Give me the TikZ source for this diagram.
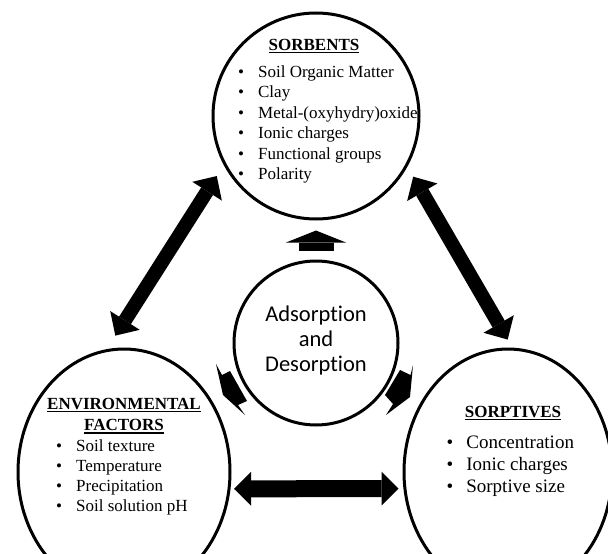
\documentclass[tikz,border=0pt]{standalone}
\usepackage{fontspec}
\setmainfont{Liberation Serif}
\newfontfamily\calib[Ligatures=NoCommon]{Carlito}
\usetikzlibrary{shapes.geometric,arrows.meta}
\newcommand{\hdul}[1]{\setbox0=\hbox{#1}\rlap{\rule[-3.2pt]{\wd0}{1.3pt}}\box0}
\begin{document}
\begin{tikzpicture}[x=1pt,y=-1pt,
  ring/.style={draw,line width=3pt,circle,inner sep=0pt},
  oval/.style={draw,line width=3pt,ellipse,inner sep=0pt},
  head/.style={anchor=base,inner sep=0pt,font=\fontsize{17}{21}\selectfont\bfseries},
  items/.style={anchor=base west,inner sep=0pt},
  dbl/.style={line width=14pt,{Triangle[width=35pt,length=18pt,line width=0pt]}-{Triangle[width=35pt,length=18pt,line width=0pt]}},
  hdbl/.style={line width=17pt,{Triangle[width=34pt,length=17pt,line width=0pt]}-{Triangle[width=34pt,length=17pt,line width=0pt]}},
  uparr/.style={line width=35pt,-{Triangle[width=60pt,length=12pt,line width=0pt]}},
]
\useasboundingbox (0,0) rectangle (608,554);
\fill[white] (0,0) rectangle (608,554);

% circles
\node[ring,minimum size=206pt] (top) at (316,116) {};
\node[ring,minimum size=164pt] (cen) at (316,343) {};
\node[oval,minimum width=212pt,minimum height=246pt] (env) at (124,472) {};
\node[oval,minimum width=208pt,minimum height=246pt] (sorp) at (508,472) {};

% top texts
\node[head] (topH) at (314,50) {\hdul{SORBENTS}};
\node[items] (topL) at (238,77.3) {\fontsize{17}{20.5}\selectfont
  \begin{tabular}[t]{@{}l@{\hspace{14pt}}l@{}}
  \textbullet & Soil Organic Matter\\
  \textbullet & Clay\\
  \textbullet & Metal-(oxyhydry)oxide\\
  \textbullet & Ionic charges\\
  \textbullet & Functional groups\\
  \textbullet & Polarity
  \end{tabular}};

% environmental texts
\node[head] (envH) at (124,409) {\begin{tabular}[t]{@{}c@{}}\hdul{ENVIRONMENTAL}\\[0.5pt]\hdul{FACTORS}\end{tabular}};
\node[items] (envL) at (56,451) {\fontsize{17}{20.3}\selectfont
  \begin{tabular}[t]{@{}l@{\hspace{14pt}}l@{}}
  \textbullet & Soil texture\\
  \textbullet & Temperature\\
  \textbullet & Precipitation\\
  \textbullet & Soil solution pH
  \end{tabular}};

% sorptives texts
\node[head] (sorpH) at (513,417) {\hdul{SORPTIVES}};
\node[items] (sorpL) at (446.5,448) {\fontsize{19}{22}\selectfont
  \begin{tabular}[t]{@{}l@{\hspace{13pt}}l@{}}
  \textbullet & Concentration\\
  \textbullet & Ionic charges\\
  \textbullet & Sorptive size
  \end{tabular}};

% center text
\node[anchor=base,inner sep=0pt] (cenT) at (316,321.7) {\calib\fontsize{22.5}{25}\selectfont
  \begin{tabular}[t]{@{}c@{}}Adsorption\\and\\Desorption\end{tabular}};

% big double arrows
\draw[dbl,shorten <=13pt,shorten >=16pt] (top.208) -- (env.98);
\draw[dbl,shorten <=11.6pt,shorten >=9.3pt] (top.331) -- (sorp.88);
\draw[hdbl,shorten <=3.6pt,shorten >=4.9pt] (env.351) -- (sorp.189);

% up arrow from center to top
\draw[uparr,shorten <=9pt,shorten >=10pt] (cen) -- (top);

% small slanted arrows
\fill (216,364) -- (222,375) -- (230,371) -- (247,401) -- (238,405) -- (245,415) -- (223,395) -- cycle;
\fill (413,365) -- (410.5,375) -- (400,370) -- (385,395) -- (393,404) -- (386,415) -- (410,397) -- cycle;
\end{tikzpicture}
\end{document}
